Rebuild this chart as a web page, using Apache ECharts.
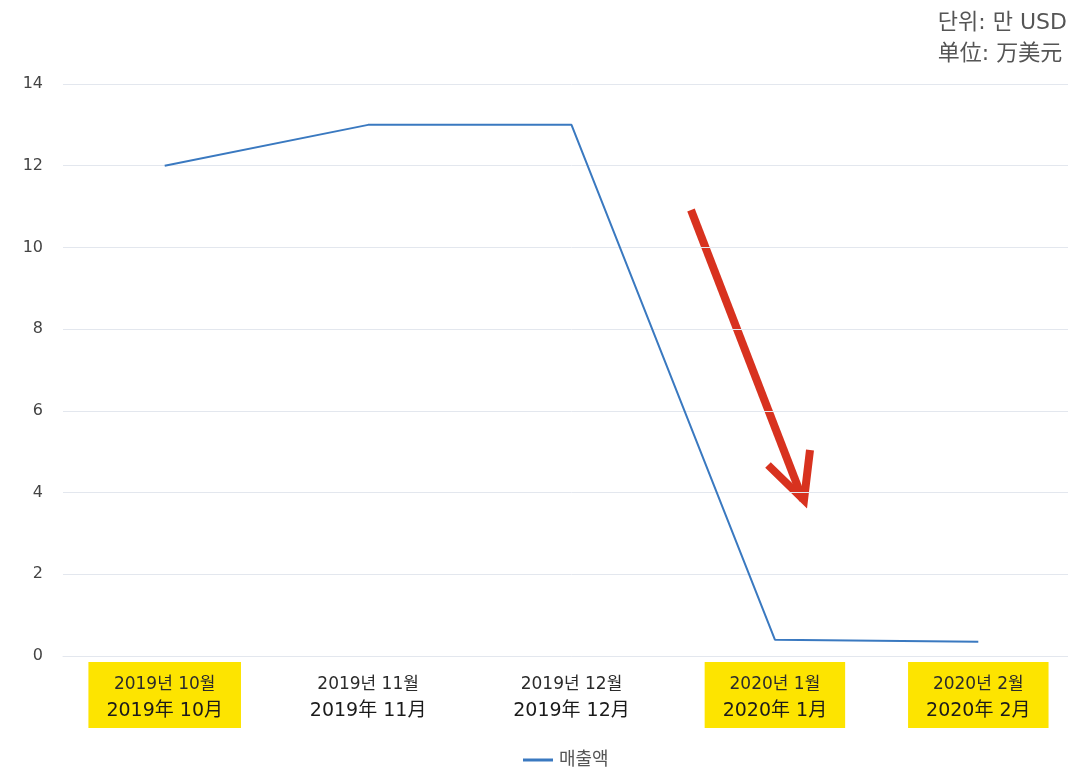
<!DOCTYPE html>
<html>
<head>
<meta charset="utf-8">
<script src="https://cdn.jsdelivr.net/npm/echarts@6/dist/echarts.min.js"></script>
<style>
  html, body { margin: 0; padding: 0; background: #fff; overflow: hidden; }
  #chart { width: 1080px; height: 768px; }
</style>
</head>
<body>
<div id="chart"></div>
<script>
// 월별 매출액 (단위: 만 USD)
const monthsKo = ['2019년 10월', '2019년 11월', '2019년 12월', '2020년 1월', '2020년 2월'];
const monthsZh = ['2019年 10月', '2019年 11月', '2019年 12月', '2020年 1月', '2020年 2月'];
const highlighted = [true, false, false, true, true];
const sales = [12, 13, 13, 0.4, 0.35];
const yTicks = { min: 0, max: 14, interval: 2 };

const font = '"DejaVu Sans", "Noto Sans CJK KR", sans-serif';

const categories = monthsKo.map((ko, i) => ({
  value: ko + '\n' + monthsZh[i],
  textStyle: highlighted[i]
    ? { backgroundColor: '#fde400' }
    : {}
}));

const chart = echarts.init(document.getElementById('chart'));
const option = {
  animation: false,
  title: {
    text: '단위: 만 USD\n单位: 万美元',
    right: 8,
    top: 3,
    textStyle: {
      fontFamily: font,
      fontSize: 22,
      fontWeight: 'normal',
      color: '#555',
      lineHeight: 31,
      align: 'right'
    }
  },
  legend: {
    top: 746,
    left: 518,
    icon: 'path://M0,0 L30,0 L30,3 L0,3 Z',
    itemWidth: 32,
    itemHeight: 3,
    itemGap: 5,
    textStyle: { fontFamily: font, fontSize: 18, color: '#555' },
    data: ['매출액']
  },
  grid: { left: 63, top: 84, right: 0, height: 572 },
  xAxis: {
    type: 'category',
    data: categories,
    boundaryGap: true,
    axisLine: { show: true, lineStyle: { color: '#e3e7ee' } },
    axisTick: { show: false },
    axisLabel: {
      interval: 0,
      margin: 6,
      fontFamily: font,
      color: '#2b2b2b',
      padding: [10, 18, 4, 18],
      rich: {},
      formatter: v => {
        const [a, b] = v.split('\n');
        return '{k|' + a + '}\n{z|' + b + '}';
      }
    }
  },
  yAxis: {
    type: 'value',
    min: yTicks.min,
    max: yTicks.max,
    interval: yTicks.interval,
    axisLine: { show: false },
    axisTick: { show: false },
    axisLabel: {
      margin: 20,
      fontFamily: font,
      fontSize: 16,
      color: '#444'
    },
    splitLine: { lineStyle: { color: '#e3e7ee', width: 1 } }
  },
  series: [{
    name: '매출액',
    type: 'line',
    data: sales,
    showSymbol: false,
    symbol: 'none',
    lineStyle: { color: '#3a79c0', width: 2 },
    itemStyle: { color: '#3a79c0' }
  }],
  graphic: [{
    // 빨간 화살표 (주석)
    type: 'group',
    children: [
      {
        type: 'line',
        shape: { x1: 691, y1: 210, x2: 803, y2: 500 },
        style: { stroke: '#d8321f', lineWidth: 8 }
      },
      {
        type: 'polyline',
        shape: { points: [[768, 465], [804, 500], [810, 450]] },
        style: { stroke: '#d8321f', lineWidth: 8, fill: null, lineJoin: 'miter' }
      }
    ]
  }]
};
option.xAxis.axisLabel.rich = {
  k: { fontFamily: font, fontSize: 17, lineHeight: 26, color: '#2b2b2b' },
  z: { fontFamily: font, fontSize: 19, lineHeight: 26, color: '#1a1a1a' }
};
chart.setOption(option);
</script>
</body>
</html>
